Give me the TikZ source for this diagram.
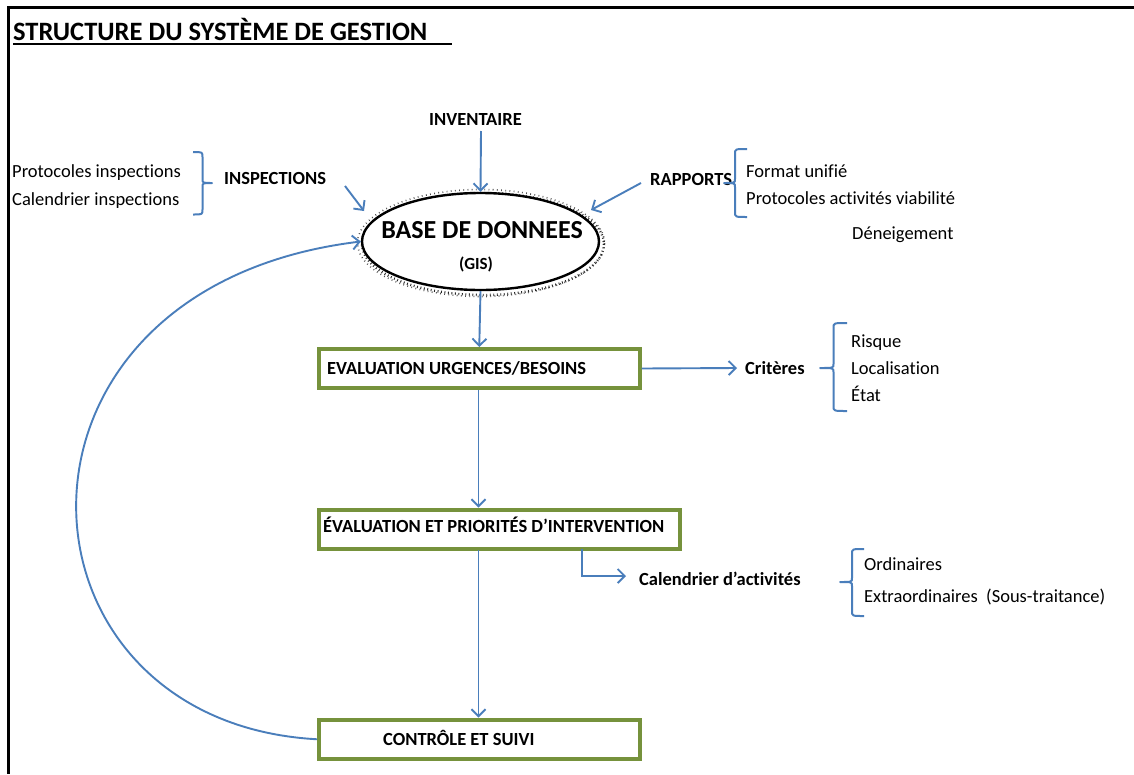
\documentclass[tikz,border=0pt]{standalone}
\usepackage{fontspec}
\setmainfont{Carlito}[Ligatures={NoCommon}]
\usetikzlibrary{shapes.geometric,arrows.meta}
\definecolor{arrowblue}{HTML}{4A7EBB}
\definecolor{boxgreen}{HTML}{76923C}
\newcommand\bracepath[6]{% hook x, vertical x, tip x, top y, mid y, bottom y
  \draw[bracestyle] (#1,#4) .. controls (#2,#4) .. (#2,#4+5) -- (#2,#5-4)
    .. controls (#2,#5) .. (#3,#5) .. controls (#2,#5) .. (#2,#5+4)
    -- (#2,#6-5) .. controls (#2,#6) .. (#1,#6);}
\begin{document}
\begin{tikzpicture}[x=1pt,y=-1pt,
  txt/.style={font=\fontsize{18.5}{22}\selectfont, inner sep=0pt, anchor=base west},
  btxt/.style={font=\fontsize{18.5}{22}\selectfont\bfseries, inner sep=0pt, anchor=base west},
  boxnode/.style={draw=boxgreen, line width=4pt, fill=white, inner sep=0pt, rectangle},
  arr/.style={draw=arrowblue, line width=1.9pt, -{Straight Barb[length=7pt,width=14pt,line width=1.9pt]}},
  bracestyle/.style={draw=arrowblue, line width=2pt, line join=round},
  frame/.style={draw=black, line width=2.8pt}
]
\useasboundingbox (0,0) rectangle (1134,774);
\fill[white] (0,0) rectangle (1134,774);
% frame
\coordinate (ftl) at (8.5,7.5);
\coordinate (ftr) at (1134,7.5);
\coordinate (fbl) at (8.5,774);
\draw[frame] (ftr) -- (ftl) -- (fbl);
% title
\node[font=\fontsize{26.5}{30}\selectfont\bfseries, inner sep=0pt, anchor=base west] (title) at (13,40) {STRUCTURE DU SYSTÈME DE GESTION};
\coordinate (ulA) at (13,44);
\coordinate (ulB) at (452,44);
\draw[line width=2pt] (ulA) -- (ulB);

% database ellipse with dotted shadow
\draw[line width=2.4pt, dash pattern=on 0.9pt off 2.6pt, black!85] (483,244) ellipse [x radius=121, y radius=51];
\draw[line width=1.6pt, dash pattern=on 0.8pt off 3.4pt, black!70] (481,243) ellipse [x radius=123.5, y radius=53.5];
\node[ellipse, draw=black, line width=2.4pt, fill=white, minimum width=237pt, minimum height=97pt, inner sep=0pt] (db) at (480.5,241.5) {};
\node[font=\fontsize{26}{30}\selectfont\bfseries, inner sep=0pt, anchor=base] (dbt) at (482,238) {BASE DE DONNEES};
\node[font=\fontsize{17}{20}\selectfont\bfseries, inner sep=0pt, anchor=base] (gis) at (476,269) {(GIS)};

% top labels
\node[btxt, anchor=base] (inv) at (475.5,125) {INVENTAIRE};
\node[btxt] (insp) at (224,184) {INSPECTIONS};
\node[btxt] (rapp) at (650,185) {RAPPORTS};
\node[txt] (pi) at (12,177) {Protocoles inspections};
\node[txt] (ci) at (12,205) {Calendrier inspections};
\node[txt] (fu) at (746,177) {Format unifié};
\node[txt] (pav) at (746,204) {Protocoles activités viabilité};
\node[txt] (den) at (852,239) {Déneigement};

% boxes
\node[boxnode, minimum width=320.5pt, minimum height=39pt] (b1) at (479.25,368.5) {};
\node[btxt] (b1t) at (327,374) {EVALUATION URGENCES/BESOINS};
\node[boxnode, minimum width=361pt, minimum height=39.5pt] (b2) at (499.5,529.25) {};
\node[btxt] (b2t) at (323,532) {ÉVALUATION ET PRIORITÉS D’INTERVENTION};
\node[boxnode, minimum width=321pt, minimum height=39.5pt] (b3) at (479.5,739.25) {};
\node[btxt] (b3t) at (383,745) {CONTRÔLE ET SUIVI};

% right labels
\node[btxt] (crit) at (745,374) {Critères};
\node[txt] (ris) at (851,347) {Risque};
\node[txt] (loc) at (851,374) {Localisation};
\node[txt] (eta) at (851,401) {État};
\node[btxt] (cal) at (639,585) {Calendrier d’activités};
\node[txt] (ord) at (864,570) {Ordinaires};
\node[txt] (ext) at (864,602) {Extraordinaires~~(Sous-traitance)};

% braces
\bracepath{193}{202.5}{212}{152}{183}{214.5}
\bracepath{747}{735}{724}{149}{183}{217}
\bracepath{847}{833.5}{820}{323}{368}{411}
\bracepath{864}{852}{840}{549}{582}{616}

% arrows
\coordinate (invS) at (481,131);
\draw[arr] (invS) -- (db.north);
\coordinate (inspS) at (345,186);
\coordinate (inspE) at (364,211);
\draw[arr] (inspS) -- (inspE);
\coordinate (rappS) at (641,183);
\coordinate (rappE) at (591,210);
\draw[arr] (rappS) -- (rappE);
\draw[arr] (db.south) -- (b1.north);
\coordinate (critE) at (737,368);
\draw[arr] (b1.east) -- (critE);
\coordinate (b1b) at (478.5,390);
\coordinate (b2top) at (478.5,507.5);
\draw[arr] (b1b) -- (b2top);
\coordinate (b2s) at (582,549);
\coordinate (calE) at (626,576);
\draw[arr] (b2s) |- (calE);
\coordinate (b2b) at (478.5,550);
\coordinate (b3top) at (478.5,717.5);
\draw[arr] (b2b) -- (b3top);
\draw[arr] (b3.west) .. controls (0,722) and (-22,288) .. (db.west);
\end{tikzpicture}
\end{document}
